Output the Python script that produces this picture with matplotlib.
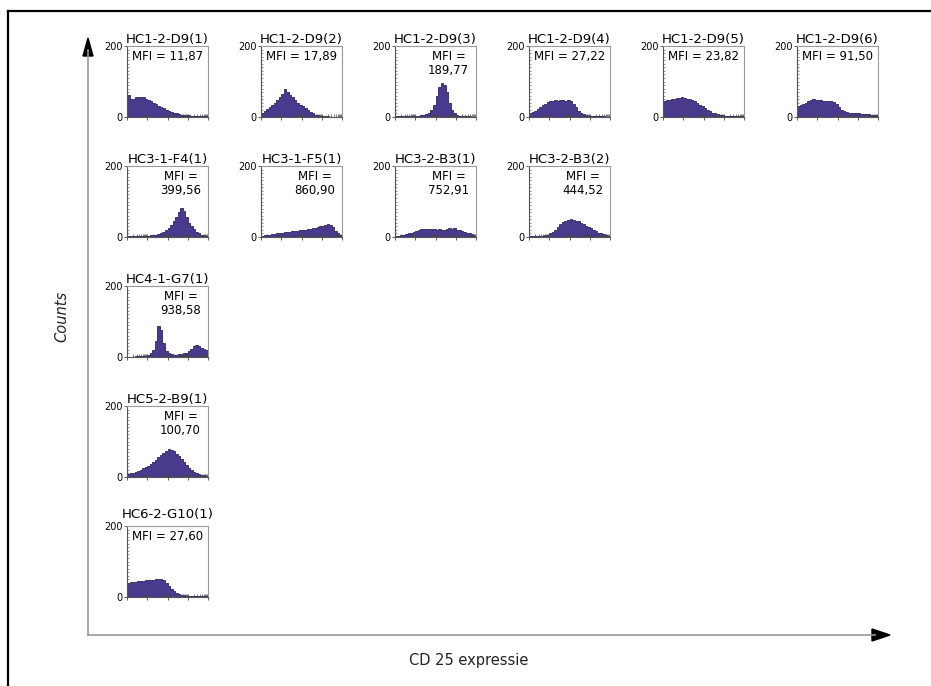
import numpy as np
import matplotlib.pyplot as plt
from matplotlib.ticker import MultipleLocator, LogLocator, NullFormatter, FixedLocator
from matplotlib.lines import Line2D
from matplotlib.patches import Polygon

# clone names, MFI values and histogram counts (32 log-spaced bins each)
clones = ['HC1-2-D9(1)', 'HC1-2-D9(2)', 'HC1-2-D9(3)', 'HC1-2-D9(4)', 'HC1-2-D9(5)', 'HC1-2-D9(6)',
          'HC3-1-F4(1)', 'HC3-1-F5(1)', 'HC3-2-B3(1)', 'HC3-2-B3(2)',
          'HC4-1-G7(1)', 'HC5-2-B9(1)', 'HC6-2-G10(1)']
mfi = ['11,87', '17,89', '189,77', '27,22', '23,82', '91,50',
       '399,56', '860,90', '752,91', '444,52',
       '938,58', '100,70', '27,60']
# grid slot (row, col) of every panel
rows = [0, 0, 0, 0, 0, 0, 1, 1, 1, 1, 2, 3, 4]
cols = [0, 1, 2, 3, 4, 5, 0, 1, 2, 3, 0, 0, 0]

hc1_d9_1 = [62, 50, 52, 55, 56, 57, 55, 52, 48, 44, 40, 36, 32, 28, 24, 21, 18, 15, 12, 10, 8, 7, 6, 5, 5, 4, 4, 3, 3, 3, 2, 2]
hc1_d9_2 = [12, 16, 22, 28, 34, 40, 48, 56, 66, 78, 70, 62, 55, 48, 40, 34, 30, 26, 20, 14, 10, 7, 5, 4, 3, 2, 2, 1, 1, 1, 1, 0]
hc1_d9_3 = [2, 2, 2, 2, 2, 2, 3, 3, 3, 4, 5, 6, 8, 12, 20, 35, 60, 85, 95, 90, 70, 40, 20, 10, 6, 4, 3, 2, 2, 2, 1, 1]
hc1_d9_4 = [10, 14, 18, 22, 28, 33, 38, 42, 45, 46, 47, 46, 47, 48, 46, 47, 44, 38, 28, 18, 12, 8, 5, 4, 3, 3, 2, 2, 2, 2, 1, 1]
hc1_d9_5 = [45, 47, 48, 50, 52, 53, 54, 55, 54, 52, 50, 48, 44, 40, 35, 30, 25, 20, 16, 12, 10, 8, 6, 5, 4, 4, 3, 3, 3, 2, 2, 2]
hc1_d9_6 = [32, 34, 36, 40, 44, 48, 50, 49, 48, 47, 46, 46, 45, 44, 42, 36, 28, 20, 16, 14, 12, 11, 10, 10, 10, 9, 9, 8, 8, 7, 6, 5]
hc3_f4_1 = [2, 2, 2, 2, 3, 3, 3, 4, 4, 5, 6, 7, 9, 12, 15, 20, 26, 34, 44, 56, 70, 82, 72, 55, 40, 30, 22, 15, 10, 7, 5, 4]
hc3_f5_1 = [4, 5, 6, 7, 8, 9, 10, 11, 12, 13, 14, 15, 16, 17, 18, 19, 20, 21, 22, 23, 24, 26, 28, 30, 32, 34, 36, 34, 28, 18, 10, 5]
hc3_b3_1 = [3, 4, 5, 6, 8, 10, 12, 15, 18, 20, 22, 23, 22, 23, 22, 22, 21, 22, 20, 21, 22, 24, 22, 25, 21, 20, 18, 15, 12, 10, 8, 6]
hc3_b3_2 = [2, 2, 2, 2, 3, 4, 5, 7, 10, 14, 20, 28, 36, 42, 46, 48, 50, 48, 46, 44, 40, 36, 32, 28, 24, 20, 16, 12, 10, 8, 6, 4]
hc4_g7_1 = [1, 1, 1, 2, 2, 2, 3, 4, 6, 10, 20, 45, 88, 75, 40, 18, 10, 8, 7, 7, 8, 9, 10, 12, 16, 22, 30, 34, 32, 26, 22, 20]
hc5_b9_1 = [8, 10, 12, 14, 17, 20, 24, 28, 32, 37, 42, 48, 55, 62, 68, 74, 78, 76, 72, 66, 58, 50, 42, 34, 26, 20, 15, 11, 8, 6, 5, 4]
hc6_g10_1 = [40, 42, 42, 43, 44, 45, 46, 47, 47, 48, 49, 50, 50, 51, 48, 40, 30, 22, 16, 12, 9, 7, 5, 4, 4, 3, 3, 3, 2, 2, 2, 2]

hists = [hc1_d9_1, hc1_d9_2, hc1_d9_3, hc1_d9_4, hc1_d9_5, hc1_d9_6,
         hc3_f4_1, hc3_f5_1, hc3_b3_1, hc3_b3_2,
         hc4_g7_1, hc5_b9_1, hc6_g10_1]
# panels whose MFI label is written on one line
one_line = ['HC1-2-D9(1)', 'HC1-2-D9(2)', 'HC1-2-D9(4)', 'HC1-2-D9(5)', 'HC1-2-D9(6)', 'HC6-2-G10(1)']

W, H = 931, 686
fig = plt.figure(figsize=(W / 100, H / 100), dpi=100)

# background layer in pixel coordinates: frame, axis arrows, axis titles
bg = fig.add_axes([0, 0, 1, 1], zorder=0)
bg.set_xlim(0, W)
bg.set_ylim(H, 0)
bg.axis('off')
bg.add_line(Line2D([8, W + 5], [11, 11], color='black', lw=1.6))
bg.add_line(Line2D([8, 8], [11, H + 5], color='black', lw=1.6))
bg.add_line(Line2D([88, 88], [635, 50], color='#999999', lw=1.2))
bg.add_line(Line2D([88, 875], [635, 635], color='#999999', lw=1.2))
bg.add_patch(Polygon([[88, 38], [83, 56], [93, 56]], closed=True, color='black'))
bg.add_patch(Polygon([[890, 635], [872, 629], [872, 641]], closed=True, color='black'))
bg.text(62, 316, 'Counts', rotation=90, style='italic', fontsize=10.5,
        ha='center', va='center', color='#222222')
bg.text(469, 661, 'CD 25 expressie', fontsize=10.5, ha='center', va='center', color='#222222')

edges = np.logspace(0, 4, 33)
box_w, box_h = 81, 71

for name, val, r, c, cnt in zip(clones, mfi, rows, cols, hists):
    x0 = 127 + 134 * c
    y_bot = 117 + 120 * r
    ax = fig.add_axes([x0 / W, 1 - y_bot / H, box_w / W, box_h / H], zorder=1)
    ax.stairs(cnt, edges, fill=True, facecolor='#4a3a8e', edgecolor='#2d2266', lw=0.6)
    ax.set_xscale('log')
    ax.set_xlim(1, 1e4)
    ax.set_ylim(0, 200)
    ax.xaxis.set_major_locator(LogLocator(base=10, numticks=10))
    ax.xaxis.set_minor_locator(LogLocator(base=10, subs=np.arange(2, 10), numticks=10))
    ax.xaxis.set_major_formatter(NullFormatter())
    ax.xaxis.set_minor_formatter(NullFormatter())
    ax.yaxis.set_major_locator(FixedLocator([0, 200]))
    ax.yaxis.set_minor_locator(MultipleLocator(10))
    ax.tick_params(axis='x', which='major', direction='inout', length=4, width=0.6, color='#444444')
    ax.tick_params(axis='x', which='minor', direction='in', length=2, width=0.5, color='#444444')
    ax.tick_params(axis='y', which='major', direction='out', length=2, width=0.6, pad=1,
                   labelsize=7, color='#444444')
    ax.tick_params(axis='y', which='minor', direction='in', length=1.5, width=0.4, color='#444444')
    for side in ['top', 'right']:
        ax.spines[side].set_color('#9a9a9a')
        ax.spines[side].set_linewidth(0.8)
    for side in ['left', 'bottom']:
        ax.spines[side].set_color('#555555')
        ax.spines[side].set_linewidth(0.8)
    ax.set_title(name, fontsize=9.5, pad=6 if r == 4 else 2)
    if name in one_line:
        ax.text(0.06, 0.95, 'MFI = ' + val, transform=ax.transAxes, fontsize=8.5,
                ha='left', va='top')
    else:
        ax.text(0.66, 0.95, 'MFI =\n' + val, transform=ax.transAxes, fontsize=8.5,
                ha='center', va='top', multialignment='center', linespacing=1.1)

fig.savefig('out.png', dpi=100)
